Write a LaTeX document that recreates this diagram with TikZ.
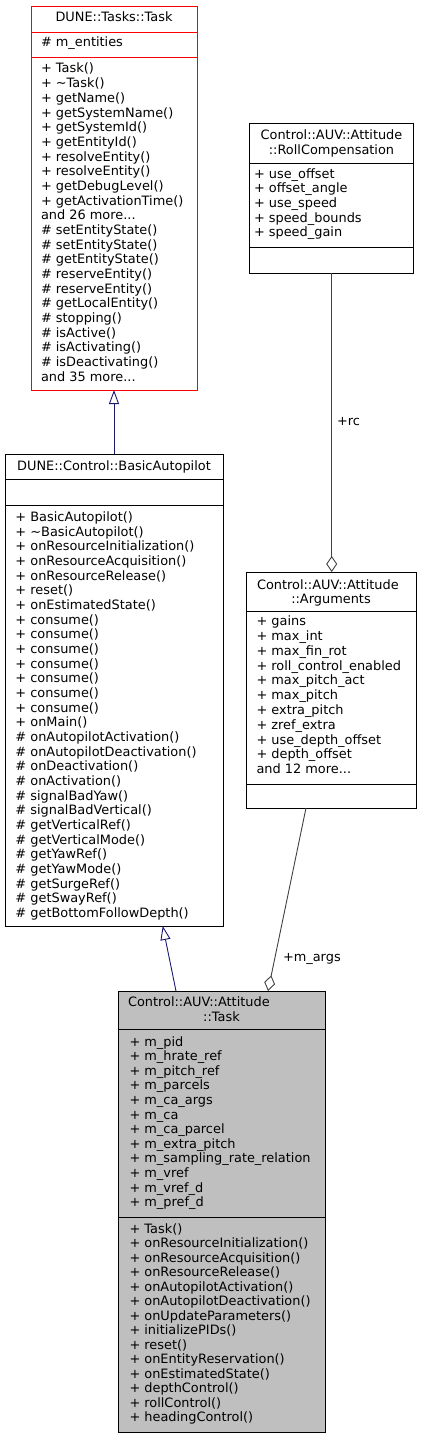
\documentclass[tikz,border=0pt]{standalone}
\usepackage{fontspec}
\setmainfont{DejaVu Sans}
\usetikzlibrary{arrows.meta,calc}
\definecolor{inhcol}{HTML}{191970}
\definecolor{aggcol}{HTML}{404040}
\definecolor{fillgray}{HTML}{BFBFBF}
\newcommand\mydots{...}
\newcommand\classlines[5]{%
  \foreach \t [count=\i from 0] in {#5} {\node[txt] (#1\i) at (#2, {#3 + \i*#4}) {\t};}}
\begin{document}
\begin{tikzpicture}[x=1pt, y=-1pt,
  txt/.style={anchor=base west, inner sep=0pt, outer sep=0pt, text=black,
    font=\fontsize{12.9}{14.67}\selectfont},
  ctxt/.style={txt, anchor=base},
  box/.style={draw=black, line width=0.9pt, fill=white, anchor=north west, inner sep=0pt, outer sep=0pt},
  redbox/.style={box, draw=red},
  grbox/.style={box, fill=fillgray},
  inh/.style={draw=inhcol, line width=0.9pt, -{Triangle[open, length=14pt, width=10pt]}},
  agg/.style={draw=aggcol, line width=0.9pt, -{Diamond[open, length=16pt, width=11pt]}}]
\useasboundingbox (0,0) rectangle (421,1439);

% ---------- DUNE::Tasks::Task ----------
\node[redbox, minimum width=166pt, minimum height=384pt] (task) at (31,6) {};
\draw[red, line width=0.9pt] (task.west |- 0,32) -- (task.east |- 0,32);
\draw[red, line width=0.9pt] (task.west |- 0,57) -- (task.east |- 0,57);
\node[ctxt] (taskT) at (114,21.7) {DUNE::Tasks::Task};
\node[txt] (taskA) at (41,47) {\# m\_entities};
\classlines{taskM}{41}{73}{14.67}{+ Task(), + \textasciitilde Task(), + getName(), + getSystemName(), + getSystemId(), + getEntityId(), + resolveEntity(), + resolveEntity(), + getDebugLevel(), + getActivationTime(), and 26 more\mydots, \# setEntityState(), \# setEntityState(), \# getEntityState(), \# reserveEntity(), \# reserveEntity(), \# getLocalEntity(), \# stopping(), \# isActive(), \# isActivating(), \# isDeactivating(), and 35 more\mydots}

% ---------- RollCompensation ----------
\node[box, minimum width=164pt, minimum height=150pt] (roll) at (249,123) {};
\draw[line width=0.9pt] (roll.west |- 0,163) -- (roll.east |- 0,163);
\draw[line width=0.9pt] (roll.west |- 0,247) -- (roll.east |- 0,247);
\node[ctxt] (rollT1) at (331.5,140) {Control::AUV::Attitude};
\node[ctxt] (rollT2) at (331.5,154.3) {::RollCompensation};
\classlines{rollA}{254}{178.3}{14.67}{+ use\_offset, + offset\_angle, + use\_speed, + speed\_bounds, + speed\_gain}

% ---------- BasicAutopilot ----------
\node[box, minimum width=218pt, minimum height=472pt] (basic) at (5,454) {};
\draw[line width=0.9pt] (basic.west |- 0,479) -- (basic.east |- 0,479);
\draw[line width=0.9pt] (basic.west |- 0,505) -- (basic.east |- 0,505);
\node[ctxt] (basicT) at (114,470) {DUNE::Control::BasicAutopilot};
\classlines{basicM}{15.5}{521.5}{14.67}{+ BasicAutopilot(), + \textasciitilde BasicAutopilot(), + onResourceInitialization(), + onResourceAcquisition(), + onResourceRelease(), + reset(), + onEstimatedState(), + consume(), + consume(), + consume(), + consume(), + consume(), + consume(), + consume(), + onMain(), \# onAutopilotActivation(), \# onAutopilotDeactivation(), \# onDeactivation(), \# onActivation(), \# signalBadYaw(), \# signalBadVertical(), \# getVerticalRef(), \# getVerticalMode(), \# getYawRef(), \# getYawMode(), \# getSurgeRef(), \# getSwayRef(), \# getBottomFollowDepth()}

% ---------- Arguments ----------
\node[box, minimum width=170pt, minimum height=236pt] (args) at (246,572) {};
\draw[line width=0.9pt] (args.west |- 0,611) -- (args.east |- 0,611);
\draw[line width=0.9pt] (args.west |- 0,784) -- (args.east |- 0,784);
\node[txt] (argsT1) at (257,589.3) {Control::AUV::Attitude};
\node[ctxt] (argsT2) at (331,603.3) {::Arguments};
\classlines{argsA}{256.5}{625.7}{14.8}{+ gains, + max\_int, + max\_fin\_rot, + roll\_control\_enabled, + max\_pitch\_act, + max\_pitch, + extra\_pitch, + zref\_extra, + use\_depth\_offset, + depth\_offset, and 12 more\mydots}

% ---------- Control::AUV::Attitude::Task ----------
\node[grbox, minimum width=207pt, minimum height=441pt] (atask) at (118,991) {};
\draw[line width=0.9pt] (atask.west |- 0,1029) -- (atask.east |- 0,1029);
\draw[line width=0.9pt] (atask.west |- 0,1217) -- (atask.east |- 0,1217);
\node[txt] (ataskT1) at (128,1006) {Control::AUV::Attitude};
\node[ctxt] (ataskT2) at (221.5,1021) {::Task};
\classlines{ataskA}{129.5}{1046}{14.6}{+ m\_pid, + m\_hrate\_ref, + m\_pitch\_ref, + m\_parcels, + m\_ca\_args, + m\_ca, + m\_ca\_parcel, + m\_extra\_pitch, + m\_sampling\_rate\_relation, + m\_vref, + m\_vref\_d, + m\_pref\_d}
\classlines{ataskM}{129.5}{1233.3}{14.5}{+ Task(), + onResourceInitialization(), + onResourceAcquisition(), + onResourceRelease(), + onAutopilotActivation(), + onAutopilotDeactivation(), + onUpdateParameters(), + initializePIDs(), + reset(), + onEntityReservation(), + onEstimatedState(), + depthControl(), + rollControl(), + headingControl()}

% ---------- connectors ----------
\draw[inh] (basic.north) -- (basic.north |- task.south);
\draw[inh] ($(atask.north west)+(58,0)$) -- ($(basic.south west)+(157.7,0)$);
\draw[agg] (roll.south -| 331.7,0) -- (args.north -| 331.7,0);
\draw[agg] ($(args.south west)+(60,0)$) -- ($(atask.north west)+(150,0)$);
\node[txt] (lrc) at (337,425) {+rc};
\node[txt] (lmargs) at (283,961) {+m\_args};
\end{tikzpicture}
\end{document}
